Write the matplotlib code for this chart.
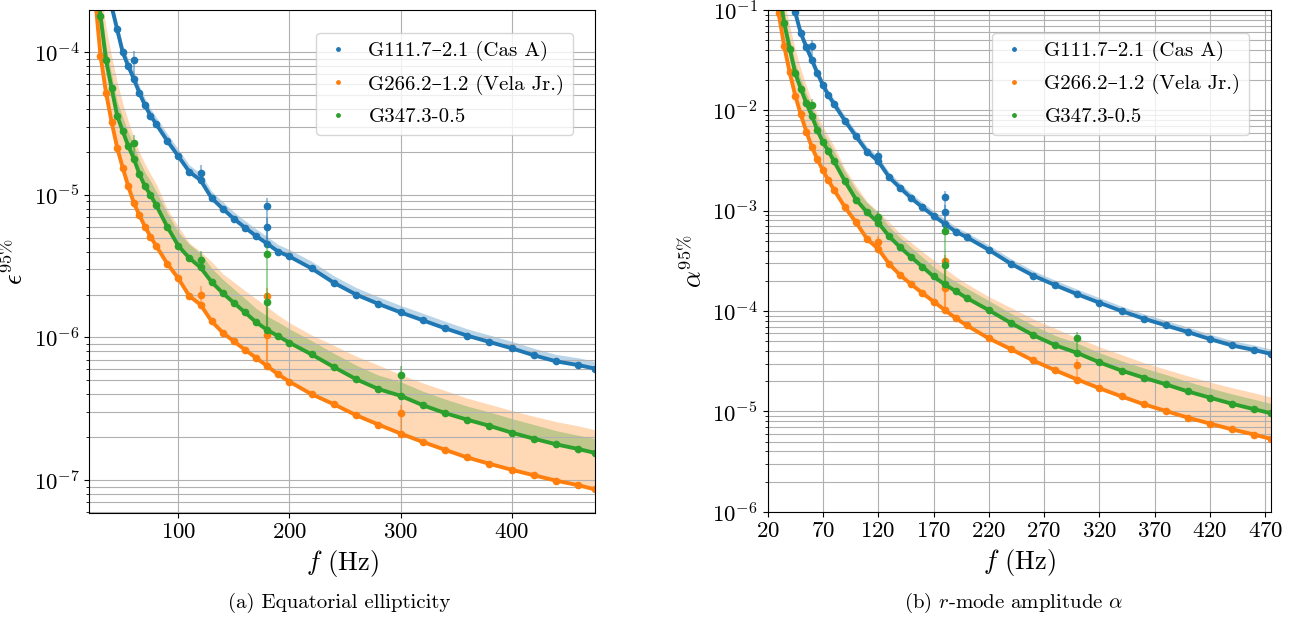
import matplotlib
matplotlib.use('Agg')
import matplotlib.pyplot as plt
import numpy as np

plt.rcParams['font.family'] = ['cmr10', 'DejaVu Serif']
plt.rcParams['mathtext.fontset'] = 'cm'
plt.rcParams['axes.formatter.use_mathtext'] = True

nan = np.nan

# frequency grid (Hz)
freq = [25, 30, 35, 40, 45, 50, 55, 60, 65, 70, 75, 80,
        90, 100, 110, 120, 130, 140, 150, 160, 170, 180, 190, 200,
        220, 240, 260, 280, 300, 320, 340, 360, 380, 400, 420, 440, 460, 475]

names = ['G111.7–2.1 (Cas A)', 'G266.2–1.2 (Vela Jr.)', 'G347.3-0.5']
colors = ['#1f77b4', '#ff7f0e', '#2ca02c']

# ---- (a) equatorial ellipticity upper limits ----
eps_casa = [nan, nan, nan, 2.1e-4, 1.45e-4, 1.0e-4, 8.0e-5, 6.5e-5, 5.2e-5, 4.25e-5, 3.6e-5, 3.15e-5,
            2.4e-5, 1.87e-5, 1.45e-5, 1.27e-5, 9.5e-6, 8.0e-6, 6.8e-6, 5.9e-6, 5.15e-6, 4.55e-6, 4.0e-6, 3.7e-6,
            3.05e-6, 2.42e-6, 2.0e-6, 1.72e-6, 1.5e-6, 1.32e-6, 1.16e-6, 1.03e-6, 9.3e-7, 8.4e-7, 7.5e-7, 6.8e-7, 6.4e-7, 6.05e-7]
eps_casa_hi = [nan, nan, nan, 2.35e-4, 1.62e-4, 1.12e-4, 8.96e-5, 7.3e-5, 5.8e-5, 4.76e-5, 4.03e-5, 3.53e-5,
               2.69e-5, 2.09e-5, 1.62e-5, 1.42e-5, 1.06e-5, 8.96e-6, 7.6e-6, 6.6e-6, 5.77e-6, 5.1e-6, 4.48e-6, 4.14e-6,
               3.42e-6, 2.71e-6, 2.24e-6, 1.93e-6, 1.68e-6, 1.48e-6, 1.3e-6, 1.15e-6, 1.04e-6, 9.4e-7, 8.4e-7, 7.6e-7, 7.2e-7, 6.8e-7]
eps_vela = [2.5e-4, 9.5e-5, 5.2e-5, 3.25e-5, 2.15e-5, 1.55e-5, 1.15e-5, 8.8e-6, 7.2e-6, 6.0e-6, 5.1e-6, 4.4e-6,
            3.3e-6, 2.6e-6, 1.95e-6, 1.7e-6, 1.3e-6, 1.08e-6, 9.4e-7, 8.2e-7, 7.2e-7, 6.3e-7, 5.5e-7, 4.9e-7,
            4.0e-7, 3.4e-7, 2.85e-7, 2.45e-7, 2.12e-7, 1.85e-7, 1.63e-7, 1.44e-7, 1.3e-7, 1.18e-7, 1.08e-7, 9.9e-8, 9.2e-8, 8.6e-8]
eps_vela_hi = [7.5e-4, 2.8e-4, 1.5e-4, 9.4e-5, 6.2e-5, 4.4e-5, 3.3e-5, 2.5e-5, 2.0e-5, 1.65e-5, 1.4e-5, 1.2e-5,
               8.0e-6, 6.0e-6, 4.6e-6, 4.0e-6, 3.4e-6, 2.8e-6, 2.45e-6, 2.13e-6, 1.87e-6, 1.64e-6, 1.43e-6, 1.27e-6,
               1.04e-6, 8.8e-7, 7.4e-7, 6.4e-7, 5.5e-7, 4.8e-7, 4.25e-7, 3.75e-7, 3.4e-7, 3.07e-7, 2.8e-7, 2.57e-7, 2.4e-7, 2.25e-7]
eps_g347 = [4.5e-4, 1.8e-4, 8.8e-5, 5.6e-5, 3.6e-5, 2.8e-5, 2.2e-5, 1.8e-5, 1.4e-5, 1.15e-5, 1.0e-5, 8.5e-6,
            6.0e-6, 4.4e-6, 3.6e-6, 3.1e-6, 2.45e-6, 2.05e-6, 1.75e-6, 1.5e-6, 1.28e-6, 1.13e-6, 1.02e-6, 9.2e-7,
            7.6e-7, 6.2e-7, 5.1e-7, 4.35e-7, 3.9e-7, 3.35e-7, 2.95e-7, 2.65e-7, 2.4e-7, 2.15e-7, 1.95e-7, 1.78e-7, 1.65e-7, 1.55e-7]
eps_g347_hi = [5.6e-4, 2.25e-4, 1.1e-4, 7.0e-5, 4.5e-5, 3.5e-5, 2.75e-5, 2.25e-5, 1.75e-5, 1.44e-5, 1.25e-5, 1.06e-5,
               7.5e-6, 5.5e-6, 4.5e-6, 3.9e-6, 3.06e-6, 2.56e-6, 2.19e-6, 1.88e-6, 1.6e-6, 1.41e-6, 1.28e-6, 1.15e-6,
               9.5e-7, 7.75e-7, 6.4e-7, 5.45e-7, 4.9e-7, 4.2e-7, 3.7e-7, 3.3e-7, 3.0e-7, 2.7e-7, 2.45e-7, 2.22e-7, 2.06e-7, 1.95e-7]

# outlier bins (power-line harmonics)
eps_spike_f = [[60, 120, 180, 180], [120, 180, 180, 300], [60, 120, 180, 180, 300]]
eps_spike_v = [[8.9e-5, 1.42e-5, 6.0e-6, 8.3e-6],
               [2.0e-6, 1.04e-6, 1.94e-6, 2.94e-7],
               [2.3e-5, 3.5e-6, 1.77e-6, 3.85e-6, 5.45e-7]]

# ---- (b) r-mode amplitude upper limits ----
alpha_casa = [nan, nan, nan, 0.154, 0.0947, 0.0588, 0.0428, 0.0319, 0.0235, 0.0179, 0.0141, 0.0116,
              7.84e-3, 5.50e-3, 3.88e-3, 3.11e-3, 2.15e-3, 1.68e-3, 1.33e-3, 1.08e-3, 8.9e-4, 7.43e-4, 6.19e-4, 5.44e-4,
              4.07e-4, 2.96e-4, 2.26e-4, 1.81e-4, 1.47e-4, 1.21e-4, 1.0e-4, 8.4e-5, 7.2e-5, 6.17e-5, 5.25e-5, 4.54e-5, 4.09e-5, 3.74e-5]
alpha_casa_hi = [nan, nan, nan, 0.172, 0.106, 0.0659, 0.048, 0.0357, 0.0263, 0.02, 0.0158, 0.013,
                 8.78e-3, 6.16e-3, 4.35e-3, 3.48e-3, 2.41e-3, 1.88e-3, 1.49e-3, 1.21e-3, 9.97e-4, 8.32e-4, 6.93e-4, 6.09e-4,
                 4.56e-4, 3.32e-4, 2.53e-4, 2.03e-4, 1.65e-4, 1.36e-4, 1.12e-4, 9.4e-5, 8.06e-5, 6.91e-5, 5.88e-5, 5.08e-5, 4.58e-5, 4.19e-5]
alpha_vela = [0.294, 0.0931, 0.0437, 0.0239, 0.01405, 9.11e-3, 6.15e-3, 4.31e-3, 3.26e-3, 2.52e-3, 2.0e-3, 1.62e-3,
              1.08e-3, 7.64e-4, 5.21e-4, 4.17e-4, 2.94e-4, 2.27e-4, 1.84e-4, 1.51e-4, 1.245e-4, 1.03e-4, 8.5e-5, 7.2e-5,
              5.34e-5, 4.17e-5, 3.22e-5, 2.57e-5, 2.08e-5, 1.70e-5, 1.41e-5, 1.18e-5, 1.01e-5, 8.67e-6, 7.56e-6, 6.61e-6, 5.88e-6, 5.32e-6]
alpha_vela_hi = [0.882, 0.274, 0.126, 0.0691, 0.0405, 0.0259, 0.0176, 0.01225, 9.05e-3, 6.93e-3, 5.49e-3, 4.41e-3,
                 2.61e-3, 1.76e-3, 1.23e-3, 9.8e-4, 7.69e-4, 5.88e-4, 4.8e-4, 3.91e-4, 3.23e-4, 2.68e-4, 2.21e-4, 1.87e-4,
                 1.39e-4, 1.08e-4, 8.37e-5, 6.72e-5, 5.39e-5, 4.41e-5, 3.68e-5, 3.06e-5, 2.63e-5, 2.26e-5, 1.96e-5, 1.72e-5, 1.53e-5, 1.39e-5]
alpha_g347 = [0.53, 0.176, 0.0739, 0.0412, 0.0235, 0.0165, 0.0118, 8.82e-3, 6.33e-3, 4.83e-3, 3.92e-3, 3.12e-3,
              1.96e-3, 1.29e-3, 9.62e-4, 7.6e-4, 5.54e-4, 4.3e-4, 3.43e-4, 2.76e-4, 2.21e-4, 1.85e-4, 1.58e-4, 1.35e-4,
              1.02e-4, 7.6e-5, 5.77e-5, 4.57e-5, 3.82e-5, 3.08e-5, 2.55e-5, 2.17e-5, 1.86e-5, 1.58e-5, 1.37e-5, 1.19e-5, 1.05e-5, 9.6e-6]
alpha_g347_hi = [0.66, 0.22, 0.0924, 0.0515, 0.0294, 0.0206, 0.0147, 0.011, 7.91e-3, 6.04e-3, 4.9e-3, 3.9e-3,
                 2.45e-3, 1.62e-3, 1.2e-3, 9.5e-4, 6.93e-4, 5.38e-4, 4.29e-4, 3.45e-4, 2.76e-4, 2.31e-4, 1.97e-4, 1.69e-4,
                 1.27e-4, 9.5e-5, 7.21e-5, 5.71e-5, 4.78e-5, 3.85e-5, 3.19e-5, 2.71e-5, 2.33e-5, 1.98e-5, 1.71e-5, 1.49e-5, 1.32e-5, 1.2e-5]

alpha_spike_f = eps_spike_f
alpha_spike_v = [[0.0436, 3.48e-3, 9.8e-4, 1.355e-3],
                 [4.9e-4, 1.7e-4, 3.17e-4, 2.88e-5],
                 [0.01127, 8.6e-4, 2.89e-4, 6.29e-4, 5.34e-5]]


def draw_panel(ax, values, uppers, spike_f, spike_v):
    for name, color, y, hi, sf, sv in zip(names, colors, values, uppers, spike_f, spike_v):
        y = np.array(y)
        hi = np.array(hi)
        ax.fill_between(freq, y, hi, color=color, alpha=0.3, lw=0)
        for f, v in zip(sf, sv):
            base = y[freq.index(f)]
            ax.vlines(f, base, v * 1.15, color=color, alpha=0.45, lw=1.5)
        ax.plot(freq, y, '-', color=color, lw=2.8)
        ax.plot(freq, y, '.', color=color, ms=9, label=name)
        ax.plot(sf, sv, '.', color=color, ms=9)
    ax.set_yscale('log')
    ax.set_xlim(20, 475)
    ax.grid(True, which='both', color='#b0b0b0', lw=0.8)
    ax.tick_params(labelsize=16.5)
    ax.set_xlabel(r'$f$ (Hz)', fontsize=19)
    ax.legend(loc='upper right', bbox_to_anchor=(0.956, 0.955), borderaxespad=0,
              fontsize=15, markerscale=0.55, handlelength=1.3, labelspacing=0.64)


fig = plt.figure(figsize=(12.97, 6.23), dpi=100)
ax1 = fig.add_axes([0.0689, 0.1770, 0.3899, 0.8069])
ax2 = fig.add_axes([0.5918, 0.1785, 0.3881, 0.8055])

draw_panel(ax1, [eps_casa, eps_vela, eps_g347], [eps_casa_hi, eps_vela_hi, eps_g347_hi],
           eps_spike_f, eps_spike_v)
ax1.set_ylim(5.9e-8, 1.98e-4)
ax1.set_ylabel(r'$\epsilon^{95\%}$', fontsize=19)

draw_panel(ax2, [alpha_casa, alpha_vela, alpha_g347], [alpha_casa_hi, alpha_vela_hi, alpha_g347_hi],
           alpha_spike_f, alpha_spike_v)
ax2.set_ylim(1e-6, 1e-1)
ax2.set_xticks(np.arange(20, 471, 50))
ax2.set_ylabel(r'$\alpha^{95\%}$', fontsize=19)

fig.text(0.2614, 0.032, '(a) Equatorial ellipticity', ha='center', va='center', fontsize=15)
fig.text(0.7815, 0.032, r'(b) $r$-mode amplitude $\alpha$', ha='center', va='center', fontsize=15)

fig.savefig('out.png', dpi=100)
